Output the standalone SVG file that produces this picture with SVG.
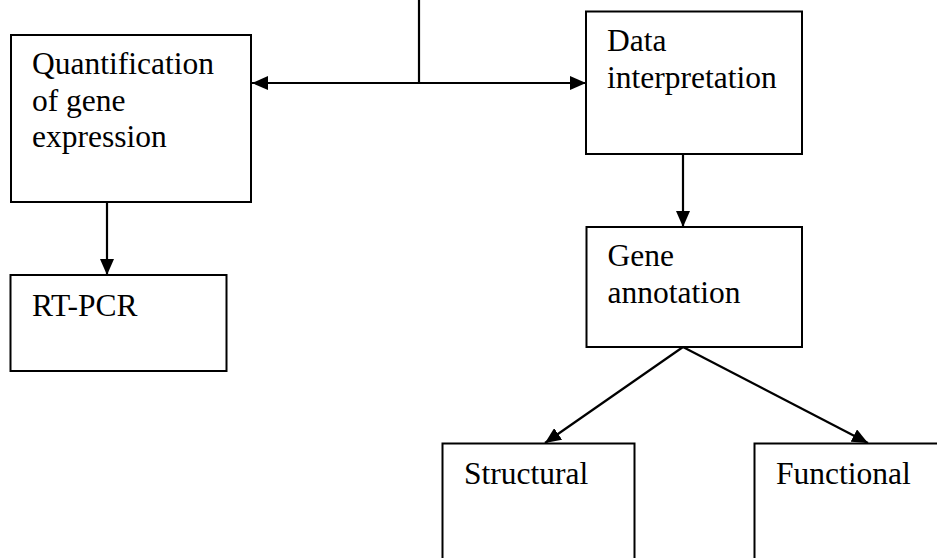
<svg xmlns="http://www.w3.org/2000/svg" width="937" height="558" viewBox="0 0 937 558">
<style>
.box{fill:#fff;stroke:#000;stroke-width:2}
text{font-family:'Liberation Serif','Times New Roman','DejaVu Serif',serif;font-size:31.5px;fill:#000}
.c{fill:none;stroke:#000;stroke-width:2.2}
</style>
<defs>
<marker id="ah" viewBox="0 0 16 14" refX="16" refY="7" markerWidth="16" markerHeight="14" markerUnits="userSpaceOnUse" orient="auto-start-reverse">
<path d="M0,0 L16,7 L0,14 Z" fill="#000"/>
</marker>
</defs>
<rect width="937" height="558" fill="#fff"/>
<g id="quant">
<rect class="box" x="11" y="35" width="240" height="167"/>
<text x="32" y="74">Quantification</text>
<text x="32" y="110.5">of gene</text>
<text x="32" y="147">expression</text>
</g>
<g id="data">
<rect class="box" x="586" y="11.5" width="216" height="142.5"/>
<text x="607" y="51">Data</text>
<text x="607" y="88">interpretation</text>
</g>
<g id="rtpcr">
<rect class="box" x="10.5" y="275" width="216" height="96"/>
<text x="32" y="316">RT-PCR</text>
</g>
<g id="gene">
<rect class="box" x="586.5" y="227" width="215.5" height="120"/>
<text x="607.5" y="266">Gene</text>
<text x="607.5" y="303">annotation</text>
</g>
<g id="structural">
<rect class="box" x="442.5" y="443.5" width="192" height="130"/>
<text x="464" y="483.5">Structural</text>
</g>
<g id="functional">
<rect class="box" x="754.5" y="443.5" width="192" height="130"/>
<text x="776" y="483.5">Functional</text>
</g>
<g id="connectors">
<line class="c" x1="419" y1="0" x2="419" y2="83"/>
<line class="c" x1="252" y1="83" x2="586" y2="83" marker-start="url(#ah)" marker-end="url(#ah)"/>
<line class="c" x1="107" y1="202" x2="107" y2="275" marker-end="url(#ah)"/>
<line class="c" x1="683" y1="154" x2="683" y2="227" marker-end="url(#ah)"/>
<line class="c" x1="683" y1="347" x2="545" y2="443" marker-end="url(#ah)"/>
<line class="c" x1="683" y1="347" x2="868" y2="443" marker-end="url(#ah)"/>
</g>
</svg>
